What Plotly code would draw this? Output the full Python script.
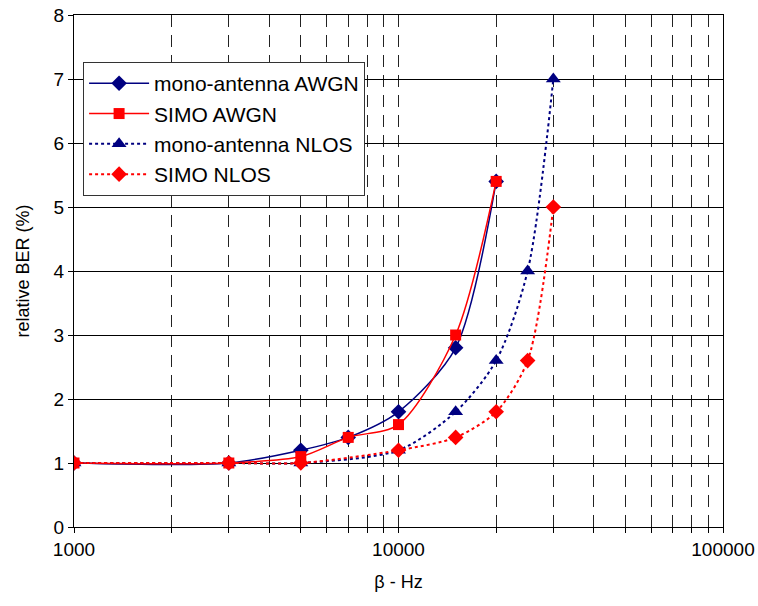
import plotly.graph_objects as go

# Data
x_awgn = [1000, 3000, 5000, 7000, 10000, 15000, 20000]
mono_awgn = [1.0, 1.0, 1.2, 1.4, 1.8, 2.8, 5.4]
simo_awgn = [1.0, 1.0, 1.1, 1.4, 1.6, 3.0, 5.4]
x_nlos = [1000, 3000, 5000, 10000, 15000, 20000, 25000, 30000]
mono_nlos = [1.0, 1.0, 1.0, 1.2, 1.8, 2.6, 4.0, 7.0]
simo_nlos = [1.0, 1.0, 1.0, 1.2, 1.4, 1.8, 2.6, 5.0]

x_tickvals = [1000, 2000, 3000, 4000, 5000, 6000, 7000, 8000, 9000,
              10000, 20000, 30000, 40000, 50000, 60000, 70000, 80000, 90000, 100000]
x_ticktext = ["1000", "", "", "", "", "", "", "", "",
              "10000", "", "", "", "", "", "", "", "", "100000"]

NAVY = "#000080"
RED = "#FF0000"
FONT = "Liberation Sans, Arial, sans-serif"

fig = go.Figure()
fig.add_trace(go.Scatter(x=x_awgn, y=mono_awgn, name="mono-antenna AWGN",
                         mode="lines+markers", line=dict(color=NAVY, width=1.5, shape="spline", smoothing=0.8),
                         marker=dict(symbol="diamond", size=12, color=NAVY)))
fig.add_trace(go.Scatter(x=x_awgn, y=simo_awgn, name="SIMO AWGN",
                         mode="lines+markers", line=dict(color=RED, width=1.5, shape="spline", smoothing=0.8),
                         marker=dict(symbol="square", size=11, color=RED)))
fig.add_trace(go.Scatter(x=x_nlos, y=mono_nlos, name="mono-antenna NLOS",
                         mode="lines+markers", line=dict(color=NAVY, width=2, dash="dot", shape="spline", smoothing=0.8),
                         marker=dict(symbol="triangle-up", size=13, color=NAVY)))
fig.add_trace(go.Scatter(x=x_nlos, y=simo_nlos, name="SIMO NLOS",
                         mode="lines+markers", line=dict(color=RED, width=2, dash="dot", shape="spline", smoothing=0.8),
                         marker=dict(symbol="diamond", size=12, color=RED)))

fig.update_layout(
    width=758, height=606,
    margin=dict(l=74, r=35, t=15, b=79, autoexpand=False),
    paper_bgcolor="white", plot_bgcolor="white",
    font=dict(family=FONT, size=18, color="black"),
    showlegend=True,
    legend=dict(x=0.014, y=0.908, xanchor="left", yanchor="top",
                bgcolor="white", bordercolor="#333333", borderwidth=1,
                font=dict(size=21), itemwidth=60, tracegroupgap=0),
    xaxis=dict(type="log", range=[3, 5], tickmode="array",
               tickvals=x_tickvals, ticktext=x_ticktext,
               showgrid=True, gridcolor="#222222", gridwidth=1, griddash="12px,8px",
               showline=True, linecolor="black", linewidth=1, mirror=True,
               ticks="outside", ticklen=5, tickcolor="black", automargin=False,
               title=dict(text="β - Hz", font=dict(size=18), standoff=16),
               tickfont=dict(size=19), zeroline=False),
    yaxis=dict(range=[0, 8], dtick=1, showgrid=True, gridcolor="black", gridwidth=1,
               showline=True, linecolor="black", linewidth=1, mirror=True,
               ticks="outside", ticklen=5, tickcolor="black", automargin=False,
               title=dict(text="relative BER (%)", font=dict(size=18), standoff=19),
               tickfont=dict(size=19), zeroline=False),
)

fig.write_html("out.html", config={"displayModeBar": False},
               post_script="document.body.style.margin='0px';document.body.style.overflow='hidden';")
